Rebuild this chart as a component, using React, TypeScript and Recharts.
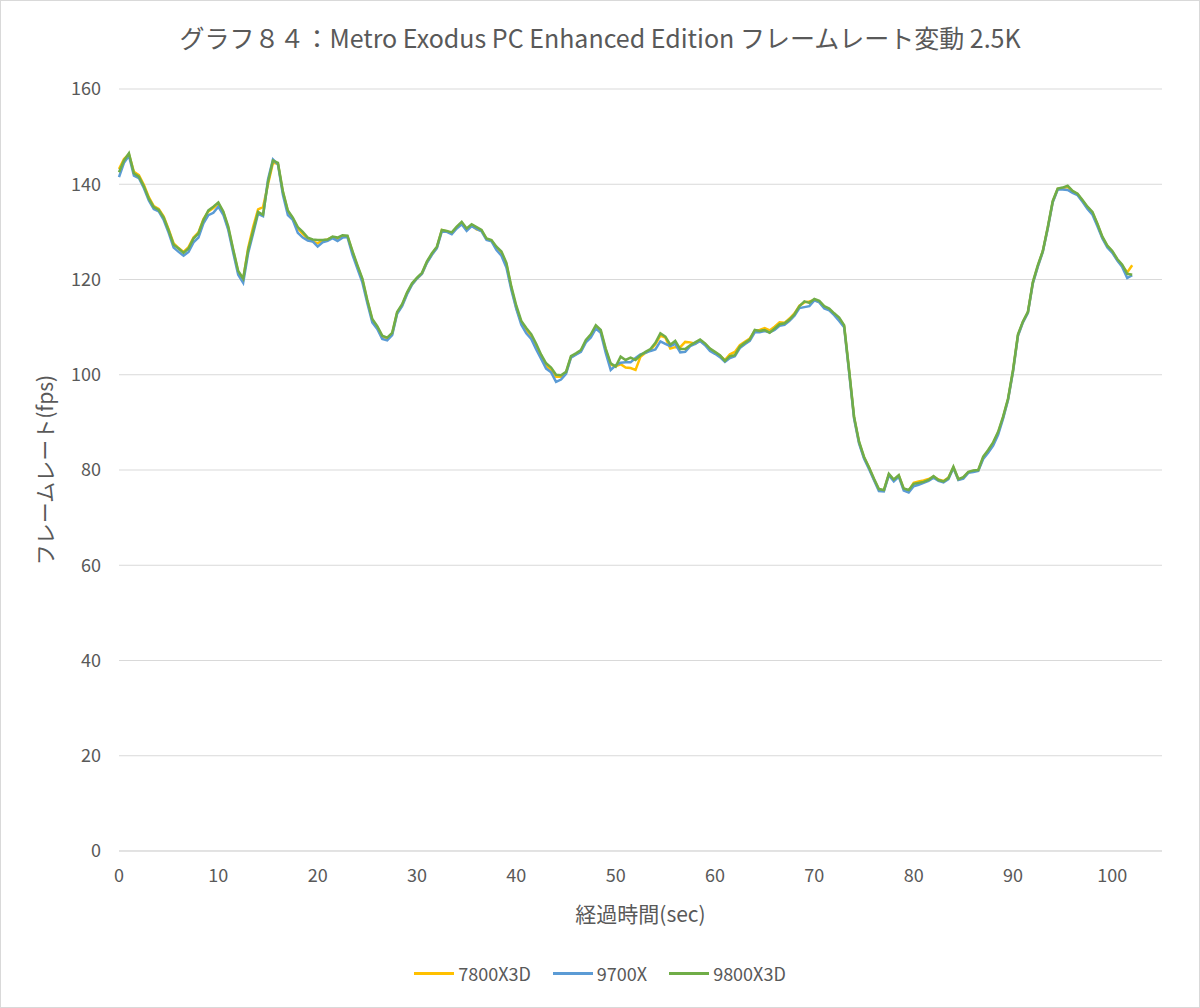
import React from "react";
import { LineChart, Line, XAxis, YAxis, CartesianGrid, Label } from "recharts";

const TITLE = "グラフ８４：Metro Exodus PC Enhanced Edition フレームレート変動 2.5K";
const SERIES_NAMES = ["7800X3D", "9700X", "9800X3D"];
const SERIES_COLORS = ["#FFC000", "#5B9BD5", "#70AD47"];
const X_TICKS = [0, 10, 20, 30, 40, 50, 60, 70, 80, 90, 100];
const Y_TICKS = [0, 20, 40, 60, 80, 100, 120, 140, 160];
const STEP = 0.5;

// 9800X3D (green), sampled every 0.5 sec from t=0
const fps9800X3D = [
  142.5, 145, 146.5, 142.3, 141.6, 139.6, 137, 135.2, 134.6, 133,
  130.3, 127.3, 126.5, 125.6, 126.5, 128.6, 129.7, 132.5, 134.5, 135.3,
  136.2, 134.3, 131.1, 126.3, 121.8, 120.2, 126.2, 130.2, 134.2, 133.6,
  140.5, 145, 144.5, 138.5, 134.5, 133, 131, 130, 128.8, 128.4,
  128.3, 128.3, 128.4, 129, 128.8, 129.3, 129.2, 126, 123, 120.2,
  115.7, 111.7, 110.2, 108.2, 107.8, 108.8, 113.2, 114.8, 117.3, 119.2,
  120.4, 121.4, 123.8, 125.5, 126.9, 130.4, 130.2, 129.9, 131.1, 132.1,
  130.7, 131.6, 131, 130.4, 128.6, 128.3, 126.9, 125.9, 123.5, 118.5,
  114.5, 111.3, 109.8, 108.5, 106.5, 104.2, 102.4, 101.5, 100, 99.9,
  100.6, 103.9, 104.5, 105.2, 107.3, 108.5, 110.4, 109.4, 105.5, 102.4,
  101.7, 103.8, 103.1, 103.6, 103.1, 104.1, 104.8, 105.4, 106.7, 108.7,
  108, 106.3, 107.1, 105.4, 105.4, 106.2, 106.8, 107.4, 106.6, 105.5,
  104.8, 104.1, 102.9, 103.9, 104.1, 105.9, 106.7, 107.4, 109.4, 109.2,
  109.4, 108.8, 109.7, 110.6, 110.8, 111.6, 112.7, 114.4, 115.4, 115.1,
  115.9, 115.5, 114.4, 113.9, 112.9, 112, 110.4, 101, 91.2, 86,
  82.8, 80.6, 78.2, 76, 75.8, 79.2, 78, 78.9, 76.1, 75.8,
  77.1, 77.3, 77.5, 77.9, 78.7, 77.9, 77.6, 78.3, 80.7, 78.1,
  78.5, 79.6, 79.9, 80, 82.8, 84.2, 85.8, 88, 91.2, 95,
  101, 108.5, 111.2, 113.2, 119.5, 123, 126, 131, 136.5, 139.1,
  139.3, 139.7, 138.6, 138, 136.7, 135.3, 134.2, 131.7, 129, 127.1,
  126, 124.3, 123.1, 121.2, 121,
];

// 9700X (blue)
const fps9700X = [
  141.5, 144.5, 146, 141.8, 141.3, 139.2, 136.6, 134.8, 134.3, 132.5,
  129.8, 126.7, 125.8, 125, 125.8, 127.8, 128.8, 131.8, 133.5, 134,
  135.3, 133.6, 130.4, 125.6, 121, 119.3, 125.5, 129.6, 133.8, 133.3,
  141, 145.2, 144.2, 137.8, 133.5, 132.5, 129.8, 128.8, 128.2, 128,
  126.9, 127.8, 128.1, 128.7, 128.1, 128.8, 128.9, 125.2, 122.3, 119.4,
  115, 111, 109.6, 107.5, 107.2, 108.3, 112.8, 114.4, 116.9, 118.9,
  120.2, 121.2, 123.5, 125.2, 126.6, 130.1, 130, 129.5, 130.7, 131.6,
  130.2, 131.2, 130.6, 130.1, 128.3, 128, 126.2, 125, 122.5, 117.8,
  113.8, 110.5, 108.7, 107.5, 105.3, 103.3, 101.3, 100.5, 98.5, 99,
  100.2, 103.6, 104.2, 104.8, 106.8, 107.8, 109.7, 108.8, 104.6, 101,
  102, 102.5, 102.6, 102.6, 103.5, 104.3, 104.6, 105, 105.3, 107,
  106.5, 106, 106.5, 104.7, 104.8, 106, 106.5, 107.1, 106.2, 105,
  104.4, 103.7, 102.7, 103.5, 103.9, 105.6, 106.4, 107.1, 108.9, 108.9,
  109.2, 108.9, 109.4, 110.3, 110.5, 111.3, 112.4, 114, 114.2, 114.4,
  115.6, 115.2, 113.9, 113.5, 112.5, 111.3, 110, 100.5, 90.8, 85.6,
  82.4, 80.2, 77.9, 75.6, 75.5, 78.9, 77.6, 78.6, 75.7, 75.3,
  76.6, 76.9, 77.3, 77.7, 78.4, 77.7, 77.4, 78.1, 80.4, 77.9,
  78.2, 79.4, 79.6, 79.8, 82.3, 83.6, 85.1, 87.4, 90.8, 94.7,
  100.6, 108.2, 111, 113, 119.2, 122.7, 125.8, 130.7, 136.2, 138.9,
  138.9, 138.8, 138.2, 137.7, 136.3, 134.8, 133.6, 131.2, 128.6, 126.7,
  125.6, 124, 122.6, 120.3, 120.9,
];

// 7800X3D (yellow)
const fps7800X3D = [
  143.2, 145.3, 146.3, 142.6, 141.9, 139.9, 137.3, 135.4, 134.8, 133.2,
  130.5, 127.6, 126.6, 125.8, 126.8, 128.8, 129.9, 132.7, 134.3, 135,
  135.9, 134.1, 130.8, 126.1, 121.5, 120, 126.6, 131, 134.7, 135.2,
  140, 144.5, 144.3, 138.3, 134.3, 132.8, 130.7, 129.6, 128.5, 128,
  127.6, 128.2, 128.4, 128.9, 128.6, 129.1, 129.1, 125.8, 122.8, 120,
  115.5, 111.5, 110, 108, 107.7, 108.6, 113, 114.6, 117.1, 119,
  120.2, 121.2, 123.6, 125.3, 126.7, 130.4, 130.1, 129.7, 130.9, 131.9,
  130.5, 131.4, 130.5, 130.2, 128.5, 128.2, 126.6, 125.6, 123.2, 118.2,
  114, 111, 109.3, 107.8, 106, 104, 102, 100.8, 99.6, 99.6,
  100.4, 103.7, 104.3, 105, 107, 108.2, 110, 109.1, 105.2, 102.1,
  101.8, 102.2, 101.5, 101.4, 101, 103.8, 104.6, 105.2, 106.4, 108.2,
  107.8, 105.5, 105.8, 105.8, 106.9, 106.8, 106.5, 107.2, 106.4, 105.4,
  104.6, 104, 103.1, 104.3, 104.8, 106.2, 106.9, 107.6, 109.2, 109.4,
  109.8, 109.3, 110.1, 111, 110.9, 111.8, 112.9, 114.5, 115.2, 115.4,
  115.7, 115.3, 114.2, 113.7, 112.7, 111.8, 110.2, 100.8, 91, 85.8,
  82.6, 80.5, 78, 75.9, 75.7, 79, 77.9, 78.8, 76, 75.6,
  77.3, 77.6, 77.8, 78.1, 78.6, 78, 77.7, 78.4, 80.5, 78,
  78.4, 79.5, 79.8, 79.9, 82.6, 84, 85.6, 87.8, 91, 94.8,
  100.8, 108.3, 111.1, 113.1, 119.3, 122.8, 125.9, 130.8, 136.3, 139,
  139.1, 139.5, 138.5, 137.9, 136.5, 135.1, 134, 131.6, 128.8, 127,
  125.8, 124.1, 122.9, 121.5, 123,
];

const data = fps9800X3D.map((v, i) => ({
  t: i * STEP,
  "7800X3D": fps7800X3D[i],
  "9700X": fps9700X[i],
  "9800X3D": v,
}));

const FONT = "'Noto Sans CJK JP', 'Noto Sans', sans-serif";
const TEXT_COLOR = "#595959";

export default function App() {
  return (
    <div style={{ position: "absolute", left: 0, top: 0, width: 1200, height: 1008, background: "#fff", fontFamily: FONT }}>
      <div style={{ position: "absolute", left: 0, top: 0, width: 1198, height: 1006, border: "1px solid #D9D9D9" }} />
      <div style={{ position: "absolute", top: 19, left: 0, width: 1200, textAlign: "center", fontSize: 25, color: TEXT_COLOR }}>
        {TITLE}
      </div>
      <div style={{ position: "absolute", left: 0, top: 0 }}>
        <LineChart width={1200} height={1008} data={data} margin={{ top: 89, right: 38, bottom: 127, left: 0 }}>
          <CartesianGrid vertical={false} stroke="#D9D9D9" strokeWidth={1} />
          <XAxis
            dataKey="t"
            type="number"
            domain={[0, 105]}
            ticks={X_TICKS}
            height={30}
            axisLine={{ stroke: "#D9D9D9" }}
            tickLine={false}
            tick={{ fill: TEXT_COLOR, fontSize: 18, fontFamily: FONT }}
            tickMargin={12}
            interval={0}
          >
            <Label value="経過時間(sec)" position="bottom" offset={26} style={{ fill: TEXT_COLOR, fontSize: 21, fontFamily: FONT }} />
          </XAxis>
          <YAxis
            width={119}
            domain={[0, 160]}
            ticks={Y_TICKS}
            axisLine={false}
            tickLine={false}
            tick={{ fill: TEXT_COLOR, fontSize: 18, fontFamily: FONT }}
            tickMargin={12}
            interval={0}
          >
            <Label value="フレームレート(fps)" angle={-90} position="insideLeft" offset={46} style={{ fill: TEXT_COLOR, fontSize: 21, fontFamily: FONT, textAnchor: "middle" }} />
          </YAxis>
          {SERIES_NAMES.map((n, i) => (
            <Line key={n} type="linear" dataKey={n} stroke={SERIES_COLORS[i]} strokeWidth={2.5} dot={false} isAnimationActive={false} />
          ))}
        </LineChart>
      </div>
      <div style={{ position: "absolute", top: 960, left: 0, width: 1200, display: "flex", justifyContent: "center", alignItems: "center", fontSize: 18, color: TEXT_COLOR }}>
        {SERIES_NAMES.map((n, i) => (
          <div key={n} style={{ display: "flex", alignItems: "center", marginRight: i < 2 ? 22 : 0 }}>
            <div style={{ width: 40, height: 3, background: SERIES_COLORS[i], marginRight: 4 }} />
            <span>{n}</span>
          </div>
        ))}
      </div>
    </div>
  );
}
